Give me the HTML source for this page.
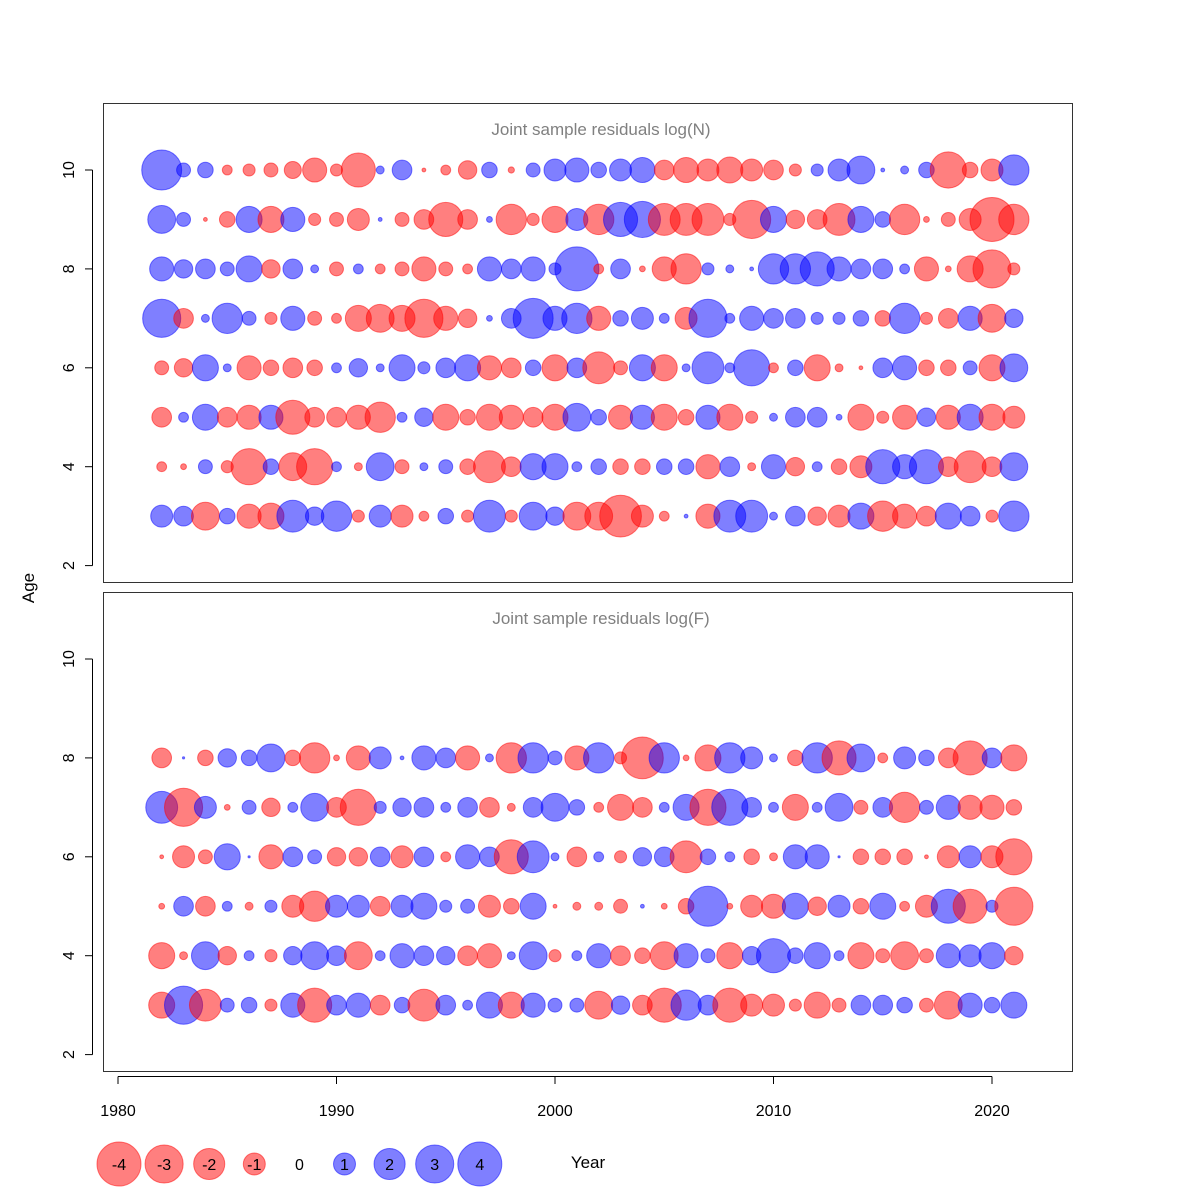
<!DOCTYPE html>
<html><head><meta charset="utf-8"><style>
body{margin:0;background:#fff;}
svg{display:block;font-family:"Liberation Sans",Arial,sans-serif;}
</style></head><body>
<svg id="chart" width="1200" height="1200" viewBox="0 0 1200 1200" xmlns="http://www.w3.org/2000/svg">
<rect x="0" y="0" width="1200" height="1200" fill="#fff"/>
<g id="panels"></g>
</svg>
<script>
const years = [];
for (let y = 1982; y <= 2021; y++) years.push(y);
// Top panel: log(N) residuals, by age
const nAge10 = [3.3,0.4,0.5,-0.2,-0.3,-0.4,-0.6,-1.2,-0.3,-2.4,0.13,0.8,-0.03,-0.2,-0.7,0.5,-0.08,0.4,1,1.2,0.5,1,1.3,-0.8,-1.3,-1,-1.4,-1,-0.8,-0.3,0.3,1,1.6,0.03,0.13,0.5,-2.7,-0.5,-1,1.9];
const nAge9 = [1.6,0.4,-0.03,-0.5,1.4,-1.4,1.2,-0.3,-0.4,-1,0.03,-0.4,-0.8,-2.4,-0.8,0.07,-1.9,-0.3,-1.4,1,-1.9,2.4,2.7,-2.1,-2.1,-2.1,-0.3,-3,1.4,-0.7,-0.8,-2.1,1.4,0.5,-1.9,-0.07,-0.4,-1,-4,-1.9];
const nAge8 = [1.2,0.7,0.8,0.4,1.4,-0.7,0.8,0.13,-0.4,0.2,-0.2,-0.4,-1.2,-0.4,-0.2,1.2,0.8,1.2,0.3,4,-0.2,0.8,-0.07,-1.2,-1.9,0.3,0.13,0.03,1.9,1.9,2.4,1.2,0.8,0.8,0.2,-1.2,-0.07,-1.4,-3,-0.3];
const nAge7 = [3,-0.8,0.13,1.9,0.4,-0.3,1.2,-0.4,-0.2,-1.4,-1.6,-1.4,-3,-1.2,-0.7,0.07,0.8,3.3,1.2,1.9,-1.2,0.5,1,0.2,-1,3,0.2,1.2,0.8,0.8,0.3,0.3,0.5,-0.5,1.9,-0.3,-0.8,1.2,-1.6,0.7];
const nAge6 = [-0.4,-0.7,1.4,0.13,-1.2,-0.5,-0.8,-0.5,0.2,0.7,0.13,1.4,0.3,0.8,1.4,-1.2,-0.8,0.5,-1.4,0.8,-2.1,-0.4,1.4,-1.4,0.13,2.1,0.2,2.7,-0.2,0.5,-1.4,-0.13,-0.03,0.8,1.2,-0.5,-0.5,0.4,-1.4,1.6];
const nAge5 = [-0.8,0.2,1.4,-0.8,-1.2,1.2,-2.4,-0.8,-0.8,-1.2,-1.9,0.2,0.7,-1.4,-0.5,-1.4,-1.2,-0.8,-1.4,1.6,0.5,-1.2,1.2,-1.4,-0.5,1.2,-1.4,-0.3,0.13,0.8,0.8,0.07,-1.4,-0.3,-1.2,0.7,-1.2,1.4,-1.4,-1];
const nAge4 = [-0.2,-0.07,0.4,-0.3,-2.7,0.5,-1.6,-2.7,0.2,-0.13,1.6,-0.4,0.13,0.4,-0.5,-2.1,-0.8,1.4,1.4,0.2,0.5,-0.5,-0.5,0.5,0.5,-1.2,0.8,-0.13,1.2,-0.7,0.2,-0.5,-1,2.4,1.2,2.4,-0.8,-2.1,-0.8,1.6];
const nAge3 = [1,0.8,-1.6,0.5,-1.2,-1.4,2.1,0.7,1.9,-0.3,1,-1,-0.2,0.5,-0.3,2.1,-0.3,1.6,0.7,-1.6,-1.6,-3.6,-1,-0.2,0.03,-1.2,2.1,2.1,0.13,0.8,-0.7,-1,1.4,-1.9,-1.2,-0.8,1.4,0.8,-0.3,1.9];
// Bottom panel: log(F) residuals, by age
const fAge8 = [-0.8,0.01,-0.5,0.7,0.5,1.6,-0.5,-1.9,-0.07,-1.2,1,0.03,1.2,0.8,-1.2,0.13,-1.9,1.9,0.4,-1.2,1.9,-0.3,-3.6,1.9,-0.07,-1.4,1.9,1,0.13,-0.5,1.9,-2.4,1.6,-0.2,1,0.5,-0.8,-2.4,0.8,-1.4];
const fAge7 = [2.1,-3,1,-0.07,0.4,-0.7,0.2,1.6,-0.8,-2.7,0.3,0.7,0.8,0.2,0.8,-0.8,-0.13,0.8,1.6,0.5,-0.2,-1.4,-0.8,0.2,1.4,-2.7,2.7,0.8,0.2,-1.4,0.2,1.6,-0.4,0.8,-1.9,0.4,1.2,-1.2,-1.2,-0.5];
const fAge6 = [-0.03,-1,-0.4,1.4,0.01,-1.2,0.8,0.4,-0.7,-0.7,0.8,-1,0.8,-0.2,1.2,0.8,-2.4,2.1,0.13,-0.8,0.2,-0.3,0.7,0.8,-2.1,0.5,0.2,-0.5,-0.13,1.2,1.2,0.01,-0.5,-0.5,-0.5,-0.03,-1,1,-1,-2.7];
const fAge5 = [-0.07,0.8,-0.8,0.2,-0.13,0.3,-1,-1.9,1,1,-0.8,1,1.4,0.3,0.4,-1,-0.5,1.4,-0.03,-0.13,-0.13,-0.4,0.03,-0.07,-0.5,3.3,-0.07,-1,-1.2,1.4,-0.7,1,-0.5,1.4,-0.2,-1,2.4,-2.4,0.3,-3];
const fAge4 = [-1.4,-0.13,1.6,-0.7,0.2,-0.3,0.7,1.6,0.8,-1.6,0.2,1.2,0.8,0.7,-0.8,-1.2,0.13,1.6,-0.3,0.2,1.2,-0.8,-0.5,-1.6,1.2,0.4,-1.4,0.7,2.4,0.5,1.4,0.2,-1.4,-0.4,-1.6,-0.4,1.2,1,1.4,-0.7];
const fAge3 = [-1.4,3,-2.1,0.4,0.5,-0.3,1.2,-2.4,0.8,1.2,-0.8,0.5,-2.1,0.8,0.2,1.4,-1.4,1.2,0.4,0.4,-1.6,0.7,-0.8,-2.4,1.9,0.8,-2.4,-1,-1,-0.3,-1.4,-0.4,0.8,0.8,0.5,-0.4,-1.6,1.2,0.5,1.4];
const legendValues = [-4,-3,-2,-1,0,1,2,3,4];
const xTicks = [1980,1990,2000,2010,2020];
const yTicks = [2,4,6,8,10];

const NS = "http://www.w3.org/2000/svg";
const svg = document.getElementById('panels');
const xScale = v => 118 + (v - 1980) * 21.85;
const rScale = v => 11 * Math.sqrt(Math.abs(v));
function mk(tag, attrs, parent) {
  const e = document.createElementNS(NS, tag);
  for (const k in attrs) e.setAttribute(k, attrs[k]);
  (parent || svg).appendChild(e);
  return e;
}
const panels = [
  {top:103, name:'log-n', title:'Joint sample residuals log(N)', rows:[[10,nAge10],[9,nAge9],[8,nAge8],[7,nAge7],[6,nAge6],[5,nAge5],[4,nAge4],[3,nAge3]]},
  {top:592, name:'log-f', title:'Joint sample residuals log(F)', rows:[[8,fAge8],[7,fAge7],[6,fAge6],[5,fAge5],[4,fAge4],[3,fAge3]]}
];
panels.forEach(p => {
  const yScale = a => p.top + 67 + (10 - a) * 49.45;
  const g = mk('g', {});
  
  
  const box = mk('rect', {x:103.5, y:p.top + 0.5, width:969, height:479, fill:'none', stroke:'#333', 'stroke-width':1}, g);
  
  
  const t = mk('text', {x:601, y:p.top + 32, 'text-anchor':'middle', 'font-size':17, fill:'#808080'}, g);
  t.textContent = p.title;
  
  
  const ax = mk('g', {}, g);
  
  
  mk('line', {x1:92.5, x2:92.5, y1:yScale(2), y2:yScale(10), stroke:'#000'}, ax);
  yTicks.forEach(v => {
    const y = yScale(v);
    mk('line', {x1:85, x2:92.5, y1:y, y2:y, stroke:'#000'}, ax);
    const lt = mk('text', {x:0, y:0, transform:`translate(74,${y}) rotate(-90)`, 'text-anchor':'middle', 'font-size':16}, ax);
    lt.textContent = v;
    
    
  });
  p.rows.forEach(([age, vals]) => {
    vals.forEach((v, i) => {
      const c = mk('circle', {cx:xScale(years[i]), cy:yScale(age), r:rScale(v),
        fill: v < 0 ? 'rgba(255,0,0,0.5)' : 'rgba(0,0,255,0.5)',
        stroke: v < 0 ? 'rgba(255,0,0,0.5)' : 'rgba(0,0,255,0.5)', 'stroke-width':1}, g);
      
      
    });
  });
});
// x axis
const xa = mk('g', {});


mk('line', {x1:xScale(1980), x2:xScale(2020), y1:1076.5, y2:1076.5, stroke:'#000'}, xa);
xTicks.forEach(v => {
  mk('line', {x1:xScale(v), x2:xScale(v), y1:1076.5, y2:1084, stroke:'#000'}, xa);
  const lt = mk('text', {x:xScale(v), y:1116, 'text-anchor':'middle', 'font-size':16}, xa);
  lt.textContent = v;
  
  
});
const yl = mk('text', {x:0, y:0, transform:'translate(34,588) rotate(-90)', 'text-anchor':'middle', 'font-size':17});
yl.textContent = 'Age';


// legend
const lg = mk('g', {});


legendValues.forEach((v, i) => {
  const cx = 119 + i * 45.1;
  if (v !== 0) {
    const c = mk('circle', {cx:cx, cy:1164, r:rScale(v), fill: v < 0 ? 'rgba(255,0,0,0.5)' : 'rgba(0,0,255,0.5)', stroke: v < 0 ? 'rgba(255,0,0,0.5)' : 'rgba(0,0,255,0.5)'}, lg);
    
    
  }
  const t = mk('text', {x:cx, y:1170, 'text-anchor':'middle', 'font-size':16}, lg);
  t.textContent = v;
  
  
});
const xt = mk('text', {x:588, y:1168, 'text-anchor':'middle', 'font-size':17});
xt.textContent = 'Year';


</script>
</body></html>
